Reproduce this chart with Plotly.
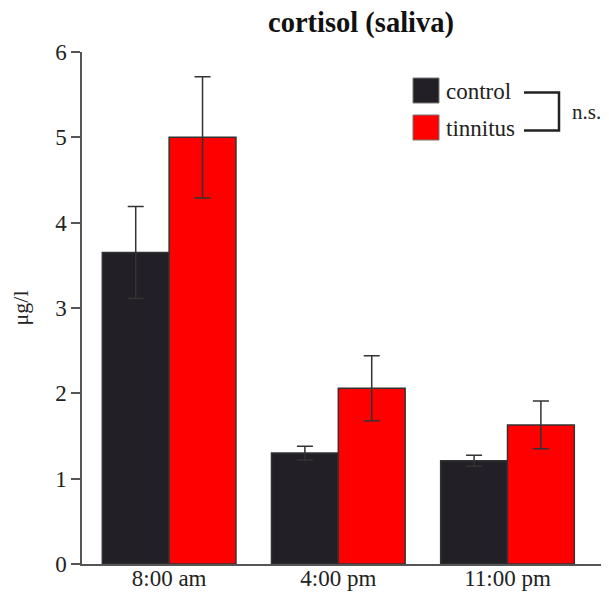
import plotly.graph_objects as go

categories = ["8:00 am", "4:00 pm", "11:00 pm"]
control_mean = [3.65, 1.30, 1.21]
control_err = [0.54, 0.08, 0.065]
tinnitus_mean = [5.00, 2.06, 1.63]
tinnitus_err = [0.71, 0.38, 0.28]
series_names = ["control", "tinnitus"]
y_ticks = [0, 1, 2, 3, 4, 5, 6]

FONT = "Liberation Serif, Times New Roman, serif"
CTRL = "#222026"
TINN = "#ff0000"
EDGE = "#333333"

# page offset (browser body margin)
OFF = 8
W, H = 609 - OFF, 595 - OFF

fig = go.Figure()
fig.add_trace(go.Bar(
    x=categories, y=control_mean, name=series_names[0],
    marker=dict(color=CTRL, line=dict(color=EDGE, width=1.5)),
    error_y=dict(type="data", array=control_err, color=EDGE, thickness=1.5, width=8),
))
fig.add_trace(go.Bar(
    x=categories, y=tinnitus_mean, name=series_names[1],
    marker=dict(color=TINN, line=dict(color=EDGE, width=1.5)),
    error_y=dict(type="data", array=tinnitus_err, color=EDGE, thickness=1.5, width=8),
))

fig.update_layout(
    width=W, height=H,
    margin=dict(l=82 - OFF, r=0, t=52 - OFF, b=595 - 564, pad=0, autoexpand=False),
    paper_bgcolor="white", plot_bgcolor="white",
    barmode="group", bargap=0.21, bargroupgap=0,
    showlegend=False,
    font=dict(family=FONT, color="#222222"),
    title=dict(text="<b>cortisol (saliva)</b>", x=(361 - OFF) / W, xanchor="center",
               y=1 - (22 - OFF) / H, yanchor="middle",
               font=dict(family=FONT, size=28.5, color="#111111")),
    xaxis=dict(
        range=[-0.515, 2.6], showline=True, linecolor="#555555", linewidth=1.5,
        ticks="", tickfont=dict(family=FONT, size=23, color="#222222"),
        ticklabelstandoff=-7,
        showgrid=False, zeroline=False, fixedrange=True, automargin=False,
    ),
    yaxis=dict(
        range=[0, 6], tickvals=y_ticks, showline=True, linecolor="#555555", linewidth=1.5,
        ticks="outside", ticklen=9, tickwidth=1.5, tickcolor="#555555",
        tickfont=dict(family=FONT, size=23, color="#222222"),
        showgrid=False, zeroline=False, automargin=False,
        title=dict(text="μg/l", font=dict(family=FONT, size=22, color="#222222"), standoff=22),
    ),
)

# legend drawn manually (page pixel -> plot paper fraction)
def px2x(px):
    return (px - 82) / 527

def py2y(py):
    return (564 - py) / 512

shapes = [
    dict(type="rect", xref="paper", yref="paper",
         x0=px2x(413), x1=px2x(439), y0=py2y(103), y1=py2y(78),
         fillcolor=CTRL, line=dict(color="#777777", width=1)),
    dict(type="rect", xref="paper", yref="paper",
         x0=px2x(413), x1=px2x(439), y0=py2y(140), y1=py2y(115),
         fillcolor=TINN, line=dict(color="#777777", width=1)),
    dict(type="path", xref="paper", yref="paper",
         path=f"M {px2x(524)},{py2y(92.5)} L {px2x(559)},{py2y(92.5)} L {px2x(559)},{py2y(130.5)} L {px2x(524)},{py2y(130.5)}",
         line=dict(color="#222222", width=2.5)),
]
fig.update_layout(shapes=shapes)

fig.add_annotation(xref="paper", yref="paper", x=px2x(444), y=py2y(91), xanchor="left",
                   yanchor="middle", text=series_names[0], showarrow=False,
                   font=dict(family=FONT, size=23, color="#222222"))
fig.add_annotation(xref="paper", yref="paper", x=px2x(444), y=py2y(128), xanchor="left",
                   yanchor="middle", text=series_names[1], showarrow=False,
                   font=dict(family=FONT, size=23, color="#222222"))
fig.add_annotation(xref="paper", yref="paper", x=px2x(570), y=py2y(112), xanchor="left",
                   yanchor="middle", text="n.s.", showarrow=False,
                   font=dict(family=FONT, size=21, color="#222222"))

fig.write_html("out.html")
